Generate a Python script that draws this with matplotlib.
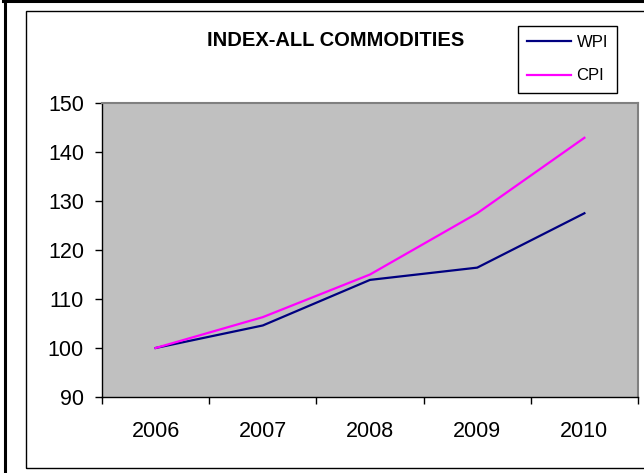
import matplotlib.pyplot as plt
from matplotlib.patches import Rectangle
from matplotlib.lines import Line2D

# index values, base year 2006 = 100
years = ["2006", "2007", "2008", "2009", "2010"]
wpi = [100.0, 104.6, 113.9, 116.4, 127.5]
cpi = [100.0, 106.3, 115.0, 127.5, 142.9]

plt.rcParams['font.family'] = ['Liberation Sans', 'DejaVu Sans']

W, H = 644, 473
fig = plt.figure(figsize=(W / 100, H / 100), dpi=100)

# outer frame (thick, left and top) and chart frame
fig.add_artist(Line2D([4.5 / W, 4.5 / W], [0, 1], transform=fig.transFigure, color='black', lw=2.2))
fig.add_artist(Line2D([3 / W, 1], [1 - 1.5 / H, 1 - 1.5 / H], transform=fig.transFigure, color='black', lw=2.2))
fig.add_artist(Rectangle((26 / W, 1 - 468 / H), (660 - 26) / W, (468 - 11) / H,
                         transform=fig.transFigure, fill=False, edgecolor='black', lw=1))

ax = fig.add_axes([102 / W, 1 - 397 / H, 536 / W, 294 / H])
ax.set_facecolor('#C0C0C0')

x = list(range(len(years)))
ax.plot(x, wpi, color='#000080', lw=1.6, label='WPI')
ax.plot(x, cpi, color='#FF00FF', lw=1.6, label='CPI')

ax.set_xlim(-0.5, len(years) - 0.5)
ax.set_ylim(90, 150)
ax.set_yticks(range(90, 151, 10))
ax.set_xticks([i - 0.5 for i in range(len(years) + 1)])
ax.set_xticklabels([])
ax.set_xticks(x, minor=True)
ax.set_xticklabels(years, minor=True)
ax.tick_params(axis='x', which='minor', length=0, labelsize=15.5, pad=17)
ax.tick_params(axis='x', which='major', length=5, width=1, color='black')
ax.tick_params(axis='y', length=5, width=1, color='black', labelsize=15.5, pad=8)

for side in ['left', 'bottom']:
    ax.spines[side].set_color('black')
    ax.spines[side].set_linewidth(1)
for side in ['top', 'right']:
    ax.spines[side].set_color('#808080')
    ax.spines[side].set_linewidth(1.5)

fig.text(336 / W, 1 - 40 / H, "INDEX-ALL COMMODITIES", ha='center', va='center',
         fontsize=14.5, fontweight='bold')

leg = fig.legend(loc='upper left', bbox_to_anchor=(518 / W, 1 - 26 / H),
                 frameon=True, fancybox=False, edgecolor='black', framealpha=1,
                 fontsize=12, handlelength=2.6, handletextpad=0.36,
                 labelspacing=1.1, borderpad=0.55, borderaxespad=0)
leg.get_frame().set_linewidth(1)

fig.savefig('out.png', dpi=100)
